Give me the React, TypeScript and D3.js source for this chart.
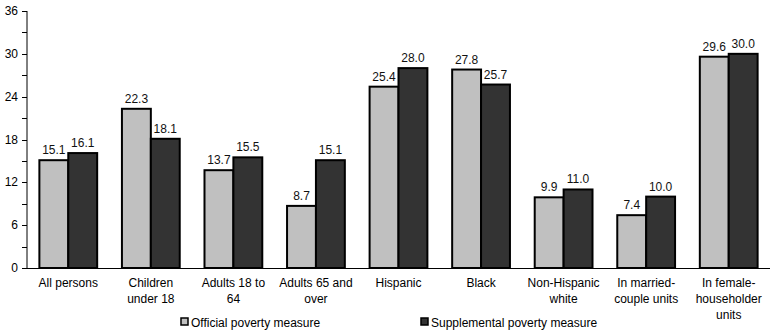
import React, { useEffect, useRef } from "react";
import * as d3 from "d3";

const categories = [
  ["All persons"],
  ["Children", "under 18"],
  ["Adults 18 to", "64"],
  ["Adults 65 and", "over"],
  ["Hispanic"],
  ["Black"],
  ["Non-Hispanic", "white"],
  ["In married-", "couple units"],
  ["In female-", "householder", "units"],
];
const official = [15.1, 22.3, 13.7, 8.7, 25.4, 27.8, 9.9, 7.4, 29.6];
const supplemental = [16.1, 18.1, 15.5, 15.1, 28.0, 25.7, 11.0, 10.0, 30.0];
const seriesNames = ["Official poverty measure", "Supplemental poverty measure"];
const seriesColors = ["#c0c0c0", "#333333"];
const yTicks = [0, 6, 12, 18, 24, 30, 36];

const App = () => {
  const svgRef = useRef<SVGSVGElement>(null);

  useEffect(() => {
    const width = 777, height = 333;
    const left = 27, right = 770, top = 11, bottom = 268;
    const svg = d3.select(svgRef.current);
    svg.selectAll("*").remove();
    svg.attr("width", width).attr("height", height)
      .style("font-family", "'Liberation Sans', Arial, sans-serif");

    const x = d3.scaleBand<number>()
      .domain(d3.range(categories.length))
      .range([left, right])
      .paddingInner(0.3)
      .paddingOuter(0.15);
    const xs = d3.scaleBand<number>().domain([0, 1]).range([0, x.bandwidth()]);
    const y = d3.scaleLinear().domain([0, 36]).range([bottom, top]);

    // y axis
    const g = svg.append("g");
    g.append("line").attr("x1", left).attr("x2", left).attr("y1", top).attr("y2", bottom)
      .attr("stroke", "#000").attr("stroke-width", 1);
    g.selectAll(".tk").data(d3.range(0, 37, 3)).enter().append("line")
      .attr("x1", left - 5).attr("x2", left)
      .attr("y1", d => Math.round(y(d)) + 0.5).attr("y2", d => Math.round(y(d)) + 0.5)
      .attr("stroke", "#000");
    g.selectAll(".tl").data(yTicks).enter().append("text")
      .attr("x", left - 9).attr("y", d => y(d) + 4)
      .attr("text-anchor", "end").attr("font-size", 12).text(d => d);

    // bars
    const series = [official, supplemental];
    series.forEach((vals, si) => {
      svg.append("g").selectAll("rect").data(vals).enter().append("rect")
        .attr("x", (d, i) => x(i)! + xs(si)!)
        .attr("y", d => y(d))
        .attr("width", xs.bandwidth())
        .attr("height", d => bottom - y(d))
        .attr("fill", seriesColors[si])
        .attr("stroke", "#000").attr("stroke-width", 2);
      svg.append("g").selectAll("text").data(vals).enter().append("text")
        .attr("x", (d, i) => x(i)! + xs(si)! + xs.bandwidth() / 2)
        .attr("y", d => y(d) - 6)
        .attr("text-anchor", "middle").attr("font-size", 12).attr("fill", "#111")
        .text(d => d.toFixed(1));
    });

    // x axis line
    svg.append("line").attr("x1", left).attr("x2", right)
      .attr("y1", bottom + 0.5).attr("y2", bottom + 0.5).attr("stroke", "#000");

    // category labels
    categories.forEach((lines, i) => {
      const t = svg.append("text").attr("text-anchor", "middle").attr("font-size", 12)
        .attr("x", x(i)! + x.bandwidth() / 2).attr("y", 287);
      lines.forEach((l, j) => {
        t.append("tspan").attr("x", x(i)! + x.bandwidth() / 2).attr("dy", j === 0 ? 0 : 16).text(l);
      });
    });

    // legend
    const legendX = [181, 421];
    seriesNames.forEach((name, si) => {
      svg.append("rect").attr("x", legendX[si]).attr("y", 318).attr("width", 7).attr("height", 7)
        .attr("fill", seriesColors[si]).attr("stroke", "#000").attr("stroke-width", 1.5);
      svg.append("text").attr("x", legendX[si] + 10).attr("y", 327).attr("font-size", 12).text(name);
    });
  }, []);

  return <svg ref={svgRef} style={{ position: "absolute", left: 0, top: 0 }}></svg>;
};

export default App;
